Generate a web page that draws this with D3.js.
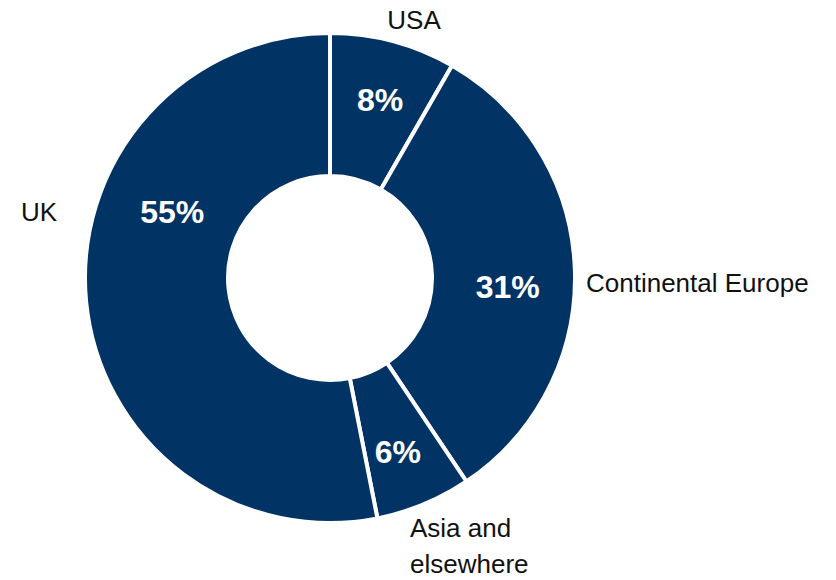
<html>
<head>
<style>
    body {
        margin: 0;
        background: #ffffff;
        font-family: "Liberation Sans", Helvetica, Arial, sans-serif;
    }
</style>
<script src="https://d3js.org/d3.v7.min.js"></script>
</head>
<body>
<svg id="Donut"></svg>
</body>
<script>

// regions, clockwise from 12 o'clock
let regions = ["USA", "Continental Europe", "Asia and elsewhere", "UK"]
// share of each arc as measured on the drawing
let shares = [8.3, 32.3, 6.3, 53.1]
// printed percentages
let pctLabels = ["8%", "31%", "6%", "55%"]

let width = 836, height = 580
let cx = 330, cy = 278
let outerR = 245, innerR = 102
let navy = "#023365"

let svg = d3.select("#Donut")
    .attr("width", width)
    .attr("height", height)

let pie = d3.pie().sort(null).value(d => d)
let arcs = pie(shares)

let arc = d3.arc()
    .innerRadius(innerR)
    .outerRadius(outerR)

let g = svg.append("g").attr("transform", `translate(${cx},${cy})`)

g.selectAll("path").data(arcs)
    .enter().append("path")
    .attr("d", arc)
    .attr("fill", navy)
    .attr("stroke", "#ffffff")
    .attr("stroke-width", 4)
    .attr("stroke-linejoin", "miter")

// percentage labels placed by hand (angle in degrees, radius)
let pctPlace = [[15.7, 185], [92.9, 178], [158.7, 187], [292.7, 171]]
function polar(deg, r) {
    let a = deg * Math.PI / 180
    return [r * Math.sin(a), -r * Math.cos(a)]
}

g.selectAll("text.pct").data(pctLabels)
    .enter().append("text")
    .attr("class", "pct")
    .attr("x", (d, i) => polar(pctPlace[i][0], pctPlace[i][1])[0])
    .attr("y", (d, i) => polar(pctPlace[i][0], pctPlace[i][1])[1])
    .attr("text-anchor", "middle")
    .attr("dominant-baseline", "central")
    .attr("fill", "#ffffff")
    .attr("font-weight", "bold")
    .attr("font-size", 32)
    .text(d => d)

// outside region names
let namePlace = [
    {x: 414, y: 20, anchor: "middle", lines: ["USA"]},
    {x: 586, y: 283, anchor: "start", lines: ["Continental Europe"]},
    {x: 410, y: 528, anchor: "start", lines: ["Asia and", "elsewhere"]},
    {x: 21, y: 212, anchor: "start", lines: ["UK"]}
]

regions.forEach((name, i) => {
    let p = namePlace[i]
    let t = svg.append("text")
        .attr("x", p.x)
        .attr("y", p.y)
        .attr("text-anchor", p.anchor)
        .attr("font-size", 26)
        .attr("fill", "#111111")
    p.lines.forEach((line, j) => {
        t.append("tspan")
            .attr("x", p.x)
            .attr("y", p.y + j * 36)
            .attr("dominant-baseline", "central")
            .text(line)
    })
})

</script>
</html>
